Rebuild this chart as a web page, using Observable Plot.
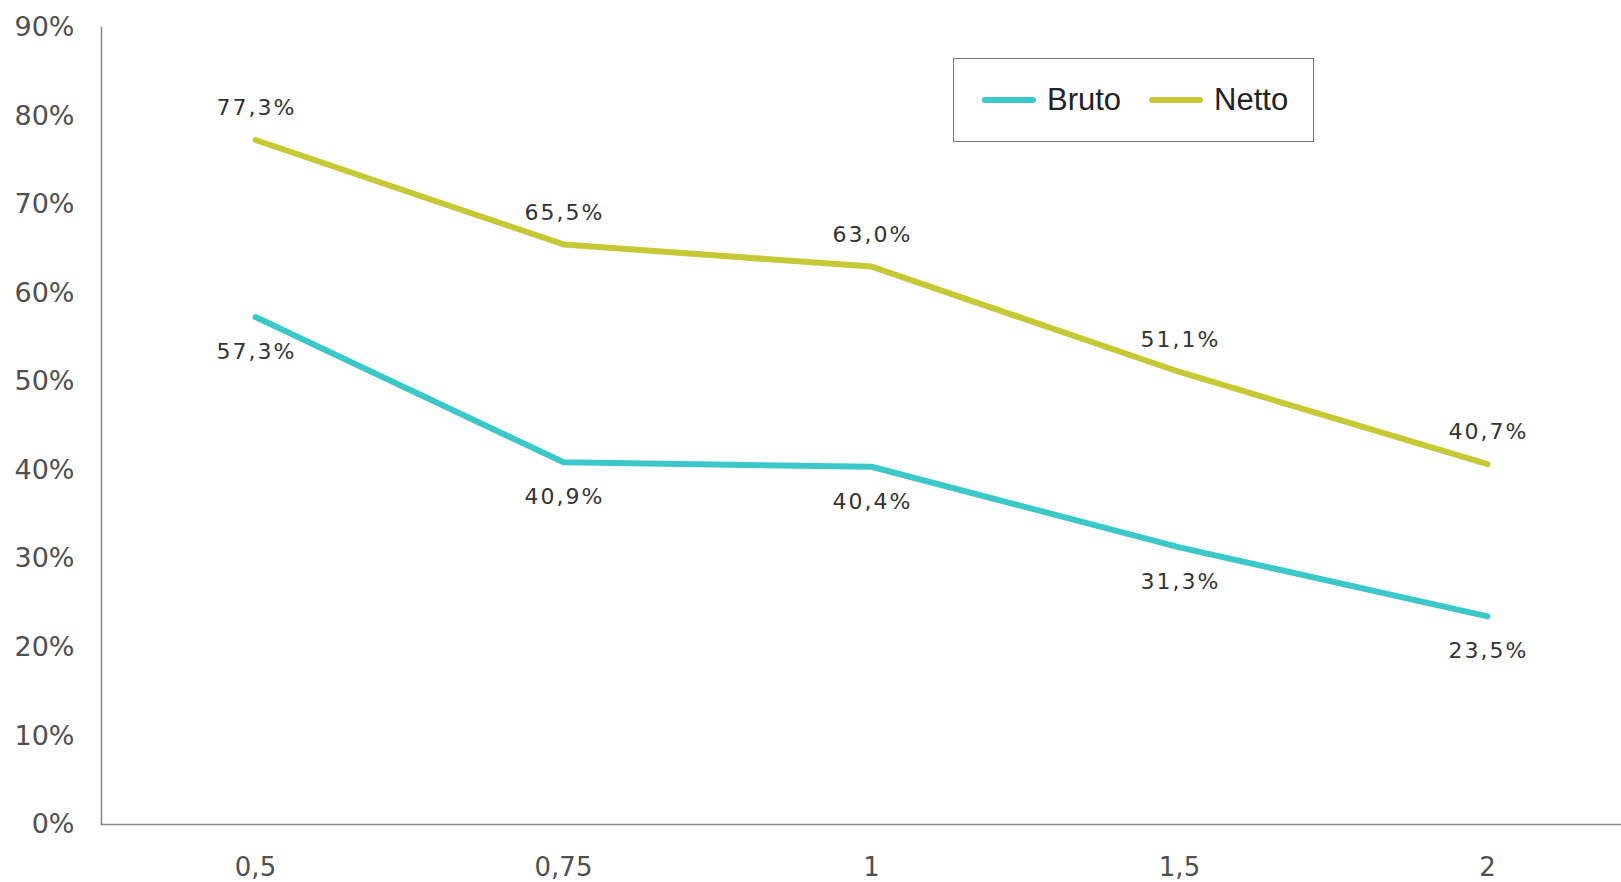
<!DOCTYPE html>
<html>
<head>
<meta charset="utf-8">
<script src="https://cdn.jsdelivr.net/npm/d3@7"></script>
<script src="https://cdn.jsdelivr.net/npm/@observablehq/plot@0.6"></script>
<style>
  html, body { margin: 0; padding: 0; background: #fff; overflow: hidden; }
  #wrap { position: relative; width: 1621px; height: 882px; }
  .dlabel text { letter-spacing: 2px; }
  #legend {
    position: absolute; left: 953px; top: 58px; width: 361px; height: 84px;
    border: 1.5px solid #777; background: #fff; box-sizing: border-box;
    display: flex; align-items: center; padding-left: 28px;
    font-family: "Liberation Sans", Arial, sans-serif; font-size: 31px; color: #222;
  }
  #legend .item { display: flex; align-items: center; margin-right: 28px; }
  #legend .swatch { width: 54px; height: 6px; border-radius: 3px; margin-right: 11px; }
</style>
</head>
<body>
<div id="wrap">
  <div id="chart"></div>
  <div id="legend"></div>
</div>
<script>
// Categories on the x axis
const categories = ["0,5", "0,75", "1", "1,5", "2"];
// Series values, in percent
const bruto = [57.3, 40.9, 40.4, 31.3, 23.5];
const netto = [77.3, 65.5, 63.0, 51.1, 40.7];
// Series names and colours
const seriesNames = ["Bruto", "Netto"];
const seriesColors = ["#3cc8c8", "#c6c935"];
// Y tick values
const yTicks = [0, 10, 20, 30, 40, 50, 60, 70, 80, 90];

const rows = [
  ...categories.map((c, i) => ({cat: c, value: bruto[i], series: "Bruto"})),
  ...categories.map((c, i) => ({cat: c, value: netto[i], series: "Netto"}))
];

const fmt = v => v.toFixed(1).replace(".", ",") + "%";

const chart = Plot.plot({
  width: 1621,
  height: 882,
  marginLeft: 101,
  marginRight: 0,
  marginTop: 27,
  marginBottom: 58,
  style: {fontFamily: "'DejaVu Sans', Verdana, sans-serif", background: "#fff"},
  x: {type: "point", domain: categories, range: [101, 1641], padding: 0.5},
  y: {domain: [0, 90]},
  color: {domain: seriesNames, range: seriesColors},
  marks: [
    Plot.axisY({
      ticks: yTicks, tickSize: 0, tickPadding: 27, label: null,
      tickFormat: d => d + "%", fontSize: 27, fill: "#505050"
    }),
    Plot.axisX({
      tickSize: 0, tickPadding: 33, label: null, fontSize: 26, fill: "#505050"
    }),
    Plot.frame({anchor: "left", stroke: "#888", strokeWidth: 1.5}),
    Plot.frame({anchor: "bottom", stroke: "#888", strokeWidth: 1.5}),
    Plot.line(rows, {
      x: "cat", y: "value", z: "series", stroke: "series",
      strokeWidth: 6, strokeLinejoin: "round", strokeLinecap: "round"
    }),
    Plot.text(rows.filter(d => d.series === "Netto"), {
      x: "cat", y: "value", text: d => fmt(d.value), dy: -32, dx: 1,
      fontSize: 22, fill: "#333", lineAnchor: "middle", className: "dlabel"
    }),
    Plot.text(rows.filter(d => d.series === "Bruto"), {
      x: "cat", y: "value", text: d => fmt(d.value), dy: 35, dx: 1,
      fontSize: 22, fill: "#333", lineAnchor: "middle", className: "dlabel"
    })
  ]
});
document.getElementById("chart").appendChild(chart);

// Legend
const legend = document.getElementById("legend");
seriesNames.forEach((name, i) => {
  const item = document.createElement("div");
  item.className = "item";
  const sw = document.createElement("span");
  sw.className = "swatch";
  sw.style.background = seriesColors[i];
  const label = document.createElement("span");
  label.textContent = name;
  item.appendChild(sw);
  item.appendChild(label);
  legend.appendChild(item);
});
</script>
</body>
</html>
